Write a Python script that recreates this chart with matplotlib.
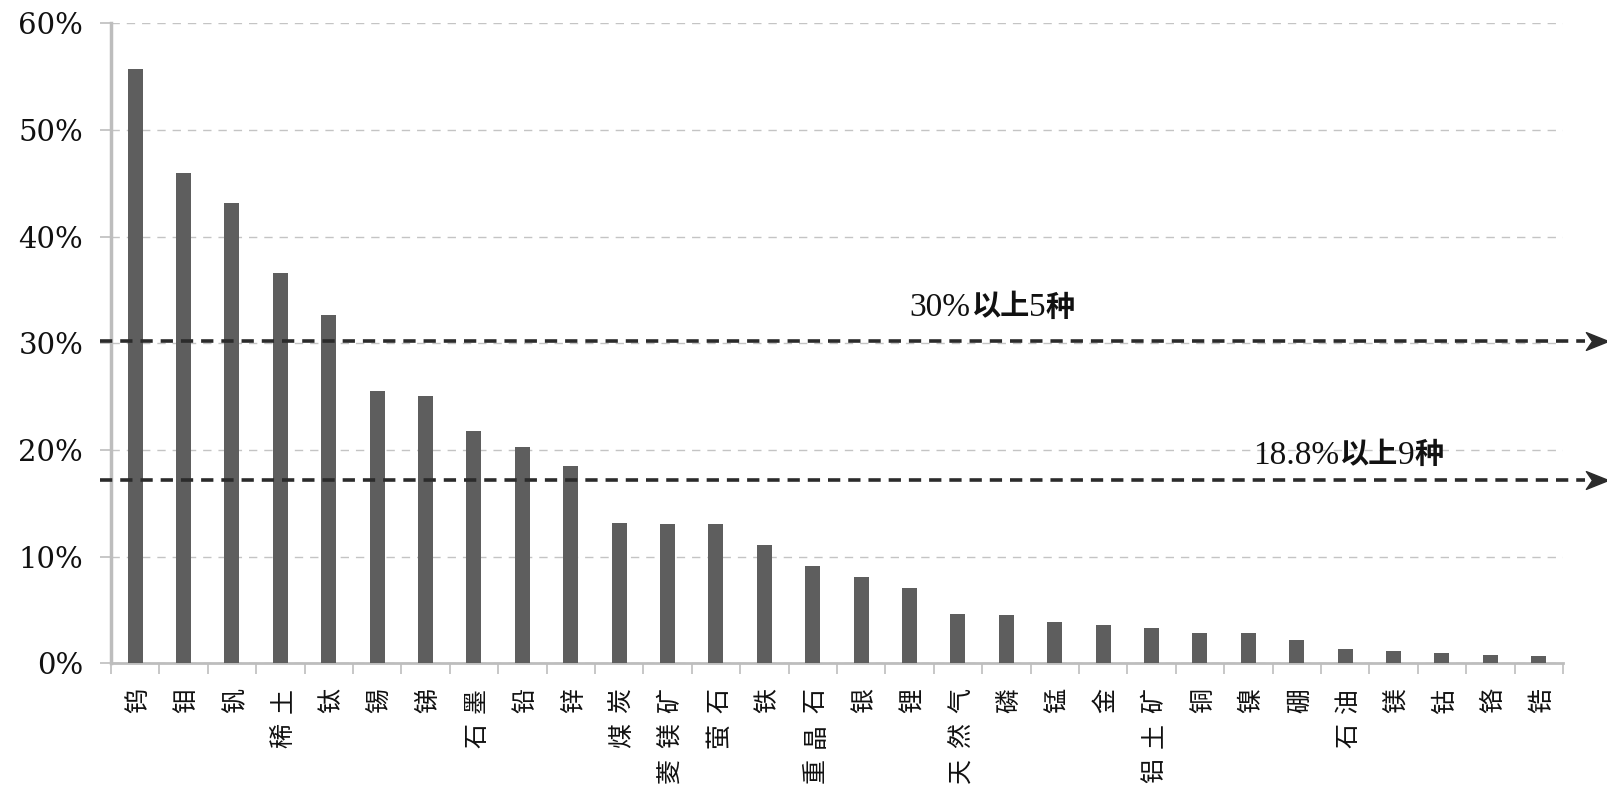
import matplotlib
matplotlib.use("Agg")
import matplotlib.pyplot as plt
from matplotlib.ticker import FixedLocator, PercentFormatter
from matplotlib.path import Path
from matplotlib.transforms import offset_copy

plt.rcParams['font.family'] = ['Noto Sans CJK SC', 'DejaVu Sans']

# ---- data ----
minerals = ["钨", "钼", "钒", "稀土", "钛", "锡", "锑", "石墨", "铅", "锌",
            "煤炭", "菱镁矿", "萤石", "铁", "重晶石", "银", "锂", "天然气", "磷", "锰",
            "金", "铝土矿", "铜", "镍", "硼", "石油", "镁", "钴", "铬", "锆"]
values = [55.7, 46.0, 43.2, 36.6, 32.7, 25.5, 25.1, 21.8, 20.3, 18.5,
          13.2, 13.05, 13.05, 11.1, 9.1, 8.1, 7.1, 4.6, 4.5, 3.9,
          3.6, 3.3, 2.8, 2.8, 2.2, 1.3, 1.15, 0.97, 0.8, 0.66]
yticks = [0, 10, 20, 30, 40, 50, 60]
ref_lines = [30.2, 17.2]
ref_label_parts = [[("30%", False), ("以上", True), ("5", False), ("种", True)],
                   [("18.8%", False), ("以上", True), ("9", False), ("种", True)]]
ref_label_x = [16.0, 23.1]
ref_label_y = [33.3, 19.5]

fig = plt.figure(figsize=(16.08, 7.92), dpi=100)
ax = fig.add_axes([0.069, 0.1625, 0.903, 0.808])

x = list(range(len(minerals)))
ax.bar(x, values, width=0.31, color="#5e5e5e", zorder=3)

ax.set_xlim(-0.5, len(minerals) - 0.5)
ax.set_ylim(0, 60)
ax.yaxis.set_major_locator(FixedLocator(yticks))
ax.yaxis.set_major_formatter(PercentFormatter(decimals=0))
ax.grid(axis="y", color="#c4c4c4", linestyle=(0, (6, 5)), linewidth=1.0, zorder=0)
ax.set_axisbelow(True)

for s in ["top", "right"]:
    ax.spines[s].set_visible(False)
ax.spines["left"].set_color("#bdbdbd")
ax.spines["left"].set_linewidth(2.5)
ax.spines["bottom"].set_color("#bdbdbd")
ax.spines["bottom"].set_linewidth(2.0)

ax.tick_params(axis="y", length=8, width=1.2, color="#bdbdbd", pad=12)
for lbl in ax.get_yticklabels():
    lbl.set_family(["DejaVu Serif"])
    lbl.set_fontsize(21)
    lbl.set_color("#111111")

# x ticks at category boundaries, labels drawn manually
ax.set_xticks([i - 0.5 for i in range(len(minerals) + 1)])
ax.set_xticklabels([])
ax.tick_params(axis="x", length=8, width=1.2, color="#bdbdbd", direction="out")

# rotated (90°) labels read bottom-to-top, widely spaced characters
for i, name in enumerate(minerals):
    chars = list(reversed(name))
    for k, ch in enumerate(chars):
        ax.annotate(ch, xy=(i, 0), xycoords=("data", "axes fraction"),
                    xytext=(3, -37 - 35 * k), textcoords="offset pixels",
                    ha="center", va="center", rotation=90, fontsize=18,
                    color="#111111", annotation_clip=False)

# dashed reference lines with notched arrow heads
head = Path([(-1.0, 0.8), (1.0, 0.0), (-1.0, -0.8), (-0.45, 0.0), (-1.0, 0.8)],
            [Path.MOVETO, Path.LINETO, Path.LINETO, Path.LINETO, Path.CLOSEPOLY])
for yv in ref_lines:
    ax.plot([-0.72, 29.95], [yv, yv], linestyle=(0, (3.4, 2.2)), color="#2b2b2b",
            linewidth=2.6, clip_on=False, zorder=5)
    ax.plot([30.2], [yv], marker=head, markersize=16, color="#2b2b2b",
            clip_on=False, zorder=5)

# labels: numbers regular serif, Chinese bold
fig.canvas.draw()
renderer = fig.canvas.get_renderer()
for tx, ty, parts in zip(ref_label_x, ref_label_y, ref_label_parts):
    trans = ax.transData
    for txt, bold in parts:
        t = ax.text(tx, ty, txt, ha="left", va="center",
                    fontsize=21 if bold else 24,
                    family=["Liberation Serif", "Noto Sans CJK SC"],
                    fontweight="bold" if bold else "normal",
                    color="#111111", zorder=6, transform=trans)
        bb = t.get_window_extent(renderer=renderer)
        trans = offset_copy(trans, fig=fig, x=bb.width, y=0, units="dots")

fig.savefig("out.png", dpi=100)
